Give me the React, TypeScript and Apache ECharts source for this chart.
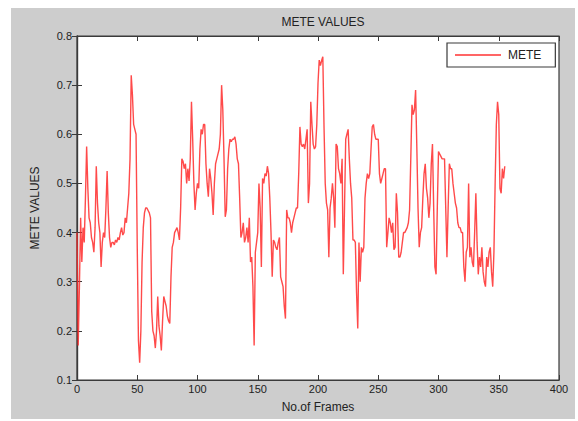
import React, { useEffect, useRef } from "react";
import * as echarts from "echarts";

const seriesName = "METE";
const titleText = "METE VALUES";
const xAxisName = "No.of Frames";
const yAxisName = "METE VALUES";
const xTicks = [0, 50, 100, 150, 200, 250, 300, 350, 400];
const yTicks = [0.1, 0.2, 0.3, 0.4, 0.5, 0.6, 0.7, 0.8];

const meteValues = [
  0.40, 0.17, 0.29, 0.43, 0.34, 0.41, 0.38, 0.47, 0.575, 0.49,
  0.43, 0.42, 0.39, 0.38, 0.36, 0.41, 0.535, 0.46, 0.42, 0.40,
  0.33, 0.38, 0.40, 0.39, 0.45, 0.525, 0.44, 0.39, 0.37, 0.38,
  0.38, 0.375, 0.385, 0.38, 0.39, 0.385, 0.40, 0.41, 0.395, 0.40,
  0.43, 0.42, 0.45, 0.48, 0.55, 0.72, 0.68, 0.62, 0.61, 0.60,
  0.37, 0.18, 0.135, 0.20, 0.34, 0.41, 0.44, 0.45, 0.45, 0.445,
  0.44, 0.43, 0.24, 0.20, 0.19, 0.165, 0.20, 0.27, 0.21, 0.19,
  0.16, 0.22, 0.27, 0.26, 0.25, 0.23, 0.22, 0.215, 0.31, 0.37,
  0.38, 0.40, 0.405, 0.41, 0.40, 0.385, 0.45, 0.55, 0.545, 0.53,
  0.54, 0.50, 0.53, 0.505, 0.55, 0.666, 0.59, 0.50, 0.446, 0.48,
  0.50, 0.49, 0.57, 0.61, 0.60, 0.62, 0.62, 0.54, 0.50, 0.473,
  0.53, 0.51, 0.48, 0.436, 0.50, 0.54, 0.55, 0.56, 0.57, 0.60,
  0.70, 0.65, 0.55, 0.432, 0.446, 0.53, 0.57, 0.59, 0.585, 0.59,
  0.59, 0.595, 0.58, 0.55, 0.54, 0.47, 0.39, 0.40, 0.42, 0.38,
  0.39, 0.41, 0.38, 0.43, 0.34, 0.35, 0.29, 0.17, 0.36, 0.38,
  0.40, 0.50, 0.45, 0.33, 0.51, 0.50, 0.52, 0.515, 0.535, 0.52,
  0.47, 0.40, 0.31, 0.385, 0.38, 0.37, 0.365, 0.38, 0.39, 0.31,
  0.30, 0.29, 0.25, 0.225, 0.446, 0.43, 0.43, 0.42, 0.40, 0.42,
  0.43, 0.44, 0.45, 0.45, 0.52, 0.615, 0.58, 0.575, 0.58, 0.57,
  0.59, 0.61, 0.46, 0.50, 0.666, 0.62, 0.58, 0.57, 0.575, 0.62,
  0.704, 0.751, 0.74, 0.75, 0.758, 0.615, 0.50, 0.46, 0.446, 0.35,
  0.45, 0.47, 0.50, 0.47, 0.41, 0.58, 0.575, 0.53, 0.52, 0.50,
  0.55, 0.315, 0.45, 0.59, 0.60, 0.61, 0.55, 0.50, 0.47, 0.385,
  0.385, 0.38, 0.277, 0.205, 0.38, 0.30, 0.37, 0.36, 0.37, 0.47,
  0.50, 0.52, 0.51, 0.52, 0.57, 0.615, 0.62, 0.60, 0.59, 0.59,
  0.59, 0.52, 0.50, 0.51, 0.52, 0.53, 0.53, 0.37, 0.40, 0.43,
  0.42, 0.40, 0.42, 0.365, 0.37, 0.48, 0.44, 0.35, 0.35, 0.36,
  0.38, 0.40, 0.40, 0.405, 0.41, 0.42, 0.446, 0.55, 0.66, 0.64,
  0.65, 0.69, 0.575, 0.45, 0.37, 0.40, 0.41, 0.47, 0.52, 0.54,
  0.49, 0.47, 0.43, 0.46, 0.54, 0.58, 0.45, 0.33, 0.315, 0.45,
  0.565, 0.56, 0.555, 0.55, 0.55, 0.55, 0.45, 0.35, 0.45, 0.54,
  0.53, 0.53, 0.50, 0.48, 0.46, 0.45, 0.42, 0.41, 0.41, 0.40,
  0.40, 0.33, 0.30, 0.36, 0.37, 0.50, 0.35, 0.37, 0.34, 0.33,
  0.40, 0.48, 0.38, 0.315, 0.35, 0.33, 0.37, 0.32, 0.30, 0.29,
  0.35, 0.33, 0.36, 0.37, 0.32, 0.29, 0.36, 0.50, 0.62, 0.666,
  0.64, 0.49, 0.48, 0.53, 0.51, 0.535,
];

const FONT = "Liberation Sans, Arial, sans-serif";

export default function App() {
  const ref = useRef<HTMLDivElement>(null);

  useEffect(() => {
    if (!ref.current) return;
    const chart = echarts.init(ref.current, undefined, { renderer: "svg" });
    const data = meteValues.map((v, i) => [i, v]);
    const axisLine = { show: true, lineStyle: { color: "#3a3a3a", width: 1.2 } };
    const tickStyle = { show: true, inside: true, length: 5, lineStyle: { color: "#3a3a3a" } };
    chart.setOption({
      animation: false,
      backgroundColor: "#ffffff",
      graphic: [
        {
          type: "rect",
          silent: true,
          z: -10,
          shape: { x: 11, y: 8, width: 564, height: 411 },
          style: { fill: "#cdcdcd" },
        },
      ],
      title: {
        text: titleText,
        left: 318,
        textAlign: "center",
        top: 11,
        textStyle: { fontFamily: FONT, fontSize: 12, fontWeight: "normal", color: "#222" },
      },
      legend: {
        data: [{ name: seriesName, icon: "rect" }],
        left: 447,
        top: 43,
        orient: "vertical",
        backgroundColor: "#ffffff",
        borderColor: "#3a3a3a",
        borderWidth: 1.2,
        padding: [6, 14, 6, 8],
        itemWidth: 46,
        itemHeight: 2,
        itemGap: 4,
        itemStyle: { color: "#ff4a4a", opacity: 0.85 },
        lineStyle: { opacity: 0 },
        textStyle: { fontFamily: FONT, fontSize: 12, color: "#222", padding: [0, 0, 0, 2] },
      },
      grid: {
        left: 77,
        top: 36,
        right: 19,
        bottom: 41,
        show: true,
        backgroundColor: "#ffffff",
        borderColor: "#3a3a3a",
        borderWidth: 1.2,
        containLabel: false,
      },
      xAxis: [
        {
          type: "value",
          min: 0,
          max: 400,
          interval: 50,
          name: xAxisName,
          nameLocation: "middle",
          nameGap: 21,
          nameTextStyle: { fontFamily: FONT, fontSize: 12, color: "#222" },
          axisLine,
          axisTick: tickStyle,
          splitLine: { show: false },
          axisLabel: {
            fontFamily: FONT,
            fontSize: 11,
            color: "#222",
            margin: 3,
            formatter: (v: number) => (xTicks.includes(v) ? String(v) : ""),
          },
        },
        {
          type: "value",
          position: "top",
          min: 0,
          max: 400,
          interval: 50,
          axisLine,
          axisTick: tickStyle,
          axisLabel: { show: false },
          splitLine: { show: false },
        },
      ],
      yAxis: [
        {
          type: "value",
          min: 0.1,
          max: 0.8,
          interval: 0.1,
          name: yAxisName,
          nameLocation: "middle",
          nameGap: 36,
          nameTextStyle: { fontFamily: FONT, fontSize: 12, color: "#222" },
          axisLine,
          axisTick: tickStyle,
          splitLine: { show: false },
          axisLabel: {
            fontFamily: FONT,
            fontSize: 11,
            color: "#222",
            margin: 5,
            formatter: (v: number) => {
              const t = yTicks.find((y) => Math.abs(y - v) < 1e-6);
              return t !== undefined ? t.toFixed(1) : "";
            },
          },
        },
        {
          type: "value",
          position: "right",
          min: 0.1,
          max: 0.8,
          interval: 0.1,
          axisLine,
          axisTick: tickStyle,
          axisLabel: { show: false },
          splitLine: { show: false },
        },
      ],
      series: [
        {
          name: seriesName,
          type: "line",
          data,
          xAxisIndex: 0,
          yAxisIndex: 0,
          showSymbol: false,
          symbol: "none",
          lineStyle: { color: "#ff2a2a", width: 1.4, opacity: 0.85 },
          itemStyle: { color: "#ff2a2a" },
        },
      ],
    });
    return () => chart.dispose();
  }, []);

  return (
    <div
      ref={ref}
      style={{ position: "absolute", left: 0, top: 0, width: 578, height: 421 }}
    />
  );
}
